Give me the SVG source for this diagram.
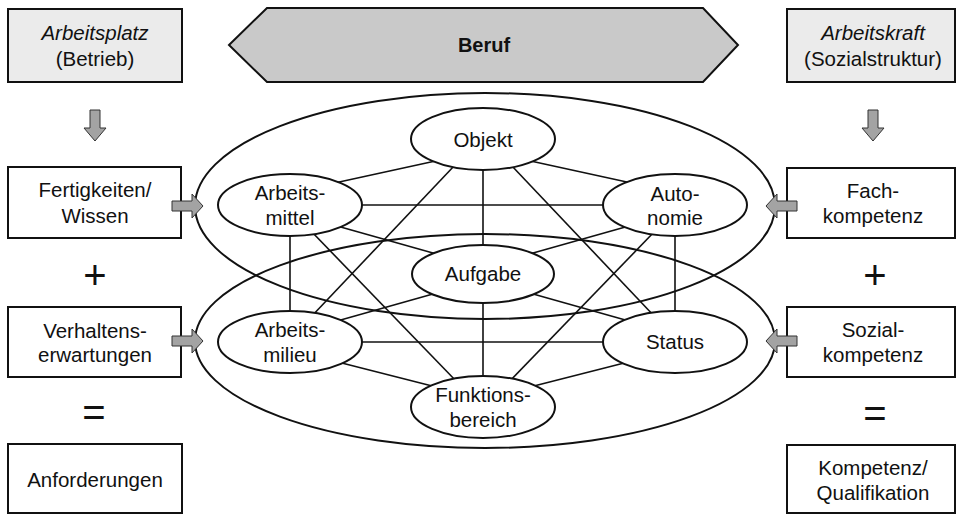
<svg xmlns="http://www.w3.org/2000/svg" width="957" height="515" viewBox="0 0 957 515">
  <style>
    text { font-family: "Liberation Sans", Arial, sans-serif; font-size: 20.5px; fill: #111; text-anchor: middle; }
    .it { font-style: italic; }
    .b { font-weight: bold; font-size: 20px; }
    .op { font-size: 40px; }
    .box { fill: #fff; stroke: #111; stroke-width: 2; }
    .head { fill: #ebebeb; stroke: #111; stroke-width: 2; }
    .hex { fill: #c9c9c9; stroke: #111; stroke-width: 2; }
    .arr { fill: #a3a3a3; stroke: #333; stroke-width: 1; }
    .ring { fill: none; stroke: #111; stroke-width: 2; }
    .node { fill: #fff; stroke: #111; stroke-width: 2; }
    .edge { stroke: #111; stroke-width: 1.6; fill: none; }
  </style>

  <!-- Header row -->
  <g id="arbeitsplatz">
    <rect class="head" x="8" y="9" width="174" height="73"/>
    <text class="it" x="95" y="40">Arbeitsplatz</text>
    <text x="95" y="66">(Betrieb)</text>
  </g>
  <g id="beruf">
    <polygon class="hex" points="229,45 267,8 703,8 738,45 703,82 267,82"/>
    <text class="b" x="484" y="52">Beruf</text>
  </g>
  <g id="arbeitskraft">
    <rect class="head" x="787" y="9" width="168" height="73"/>
    <text class="it" x="873" y="40">Arbeitskraft</text>
    <text x="873" y="66">(Sozialstruktur)</text>
  </g>

  <!-- Left column -->
  <g id="fertigkeiten">
    <rect class="box" x="8" y="167" width="173" height="71"/>
    <text x="95" y="197">Fertigkeiten/</text>
    <text x="95" y="223">Wissen</text>
  </g>
  <g id="verhaltenserwartungen">
    <rect class="box" x="8" y="307" width="173" height="70"/>
    <text x="95" y="338">Verhaltens-</text>
    <text x="95" y="362">erwartungen</text>
  </g>
  <g id="anforderungen">
    <rect class="box" x="8" y="444" width="174" height="69"/>
    <text x="95" y="487">Anforderungen</text>
  </g>
  <text class="op" x="95" y="289">+</text>
  <text class="op" x="94" y="426">=</text>

  <!-- Right column -->
  <g id="fachkompetenz">
    <rect class="box" x="787" y="168" width="168" height="70"/>
    <text x="873" y="198">Fach-</text>
    <text x="873" y="223">kompetenz</text>
  </g>
  <g id="sozialkompetenz">
    <rect class="box" x="787" y="307" width="168" height="70"/>
    <text x="873" y="337">Sozial-</text>
    <text x="873" y="362">kompetenz</text>
  </g>
  <g id="qualifikation">
    <rect class="box" x="787" y="445" width="168" height="68"/>
    <text x="873" y="475">Kompetenz/</text>
    <text x="873" y="500">Qualifikation</text>
  </g>
  <text class="op" x="875" y="289">+</text>
  <text class="op" x="875" y="427">=</text>

  <!-- Outer rings -->
  <ellipse class="ring" cx="485" cy="206" rx="290" ry="113"/>
  <ellipse class="ring" cx="485" cy="341" rx="290" ry="107"/>

  <!-- Connectors -->
  <g id="connectors">
    <!-- block arrows -->
    <path class="arr" d="M90,110 H100 V128 H106 L95,141 L84,128 H90 Z"/>
    <path class="arr" d="M868,110 H878 V128 H884 L873,141 L862,128 H868 Z"/>
    <path class="arr" d="M172,201 H192 V194 L203,206 L192,218 V211 H172 Z"/>
    <path class="arr" d="M172,336 H192 V329 L203,341 L192,353 V346 H172 Z"/>
    <path class="arr" d="M797,201 H777 V194 L766,206 L777,218 V211 H797 Z"/>
    <path class="arr" d="M797,336 H777 V329 L766,341 L777,353 V346 H797 Z"/>

    <!-- network edges -->
    <line class="edge" x1="440" y1="160" x2="330" y2="184"/>
    <line class="edge" x1="526" y1="160" x2="636" y2="184"/>
    <line class="edge" x1="483" y1="150" x2="483" y2="400"/>
    <line class="edge" x1="455" y1="165" x2="310" y2="318"/>
    <line class="edge" x1="511" y1="165" x2="656" y2="318"/>
    <line class="edge" x1="300" y1="205" x2="666" y2="205"/>
    <line class="edge" x1="330" y1="224" x2="440" y2="255"/>
    <line class="edge" x1="636" y1="224" x2="526" y2="255"/>
    <line class="edge" x1="290" y1="215" x2="290" y2="330"/>
    <line class="edge" x1="675" y1="215" x2="675" y2="330"/>
    <line class="edge" x1="310" y1="230" x2="458" y2="383"/>
    <line class="edge" x1="656" y1="230" x2="508" y2="383"/>
    <line class="edge" x1="330" y1="323" x2="440" y2="292"/>
    <line class="edge" x1="636" y1="323" x2="526" y2="292"/>
    <line class="edge" x1="300" y1="342" x2="666" y2="342"/>
    <line class="edge" x1="330" y1="360" x2="440" y2="388"/>
    <line class="edge" x1="636" y1="360" x2="526" y2="388"/>
  </g>

  <!-- Inner nodes -->
  <g id="objekt">
    <ellipse class="node" cx="483" cy="139" rx="72" ry="31"/>
    <text x="483" y="147">Objekt</text>
  </g>
  <g id="arbeitsmittel">
    <ellipse class="node" cx="290" cy="205" rx="72" ry="31"/>
    <text x="290" y="200">Arbeits-</text>
    <text x="290" y="225">mittel</text>
  </g>
  <g id="autonomie">
    <ellipse class="node" cx="675" cy="205" rx="72" ry="31"/>
    <text x="675" y="201">Auto-</text>
    <text x="675" y="225">nomie</text>
  </g>
  <g id="aufgabe">
    <ellipse class="node" cx="483" cy="274" rx="71" ry="29"/>
    <text x="483" y="281">Aufgabe</text>
  </g>
  <g id="arbeitsmilieu">
    <ellipse class="node" cx="290" cy="342" rx="72" ry="31"/>
    <text x="290" y="337">Arbeits-</text>
    <text x="290" y="362">milieu</text>
  </g>
  <g id="status">
    <ellipse class="node" cx="675" cy="342" rx="72" ry="31"/>
    <text x="675" y="349">Status</text>
  </g>
  <g id="funktionsbereich">
    <ellipse class="node" cx="483" cy="407" rx="72" ry="31"/>
    <text x="483" y="402">Funktions-</text>
    <text x="483" y="427">bereich</text>
  </g>
</svg>
